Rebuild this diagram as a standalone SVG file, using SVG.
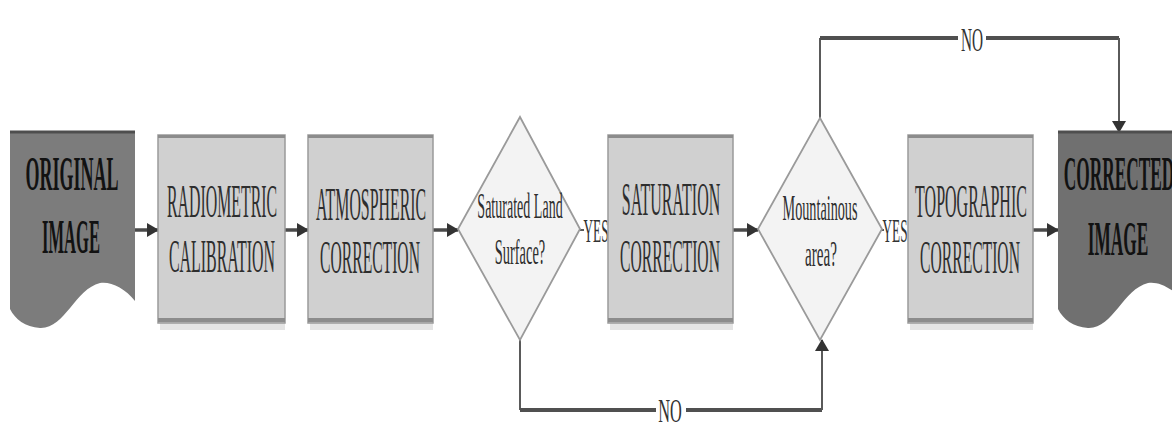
<svg xmlns="http://www.w3.org/2000/svg" width="1172" height="435" viewBox="0 0 1172 435">
  <defs>
    <style>
      .box { fill: #d0d0d0; stroke: #9a9a9a; stroke-width: 1.5; }
      .band { fill: #8c8c8c; }
      .shadow { fill: #e4e4e4; }
      .doc { fill: #7c7c7c; }
      .docTop { stroke: #4e4e4e; stroke-width: 3; }
      .dia { fill: #f3f3f3; stroke: #9a9a9a; stroke-width: 1.8; }
      .t { font-family: "Liberation Serif", "Times New Roman", serif; fill: #2e2e2e; text-anchor: middle; }
      .big { font-size: 46px; }
      .dark { fill: #121212; font-size: 48px; font-weight: bold; }
      .small { font-size: 36px; }
      .lbl { font-family: "Liberation Serif", "Times New Roman", serif; fill: #333; font-size: 34px; text-anchor: middle; }
      .wire { fill: none; stroke: #4a4a4a; stroke-width: 3.5; }
      .thin { fill: none; stroke: #5a5a5a; stroke-width: 2; }
      .loop { fill: none; stroke: #505050; stroke-width: 4; }
    </style>
    <marker id="arrow" viewBox="0 0 12 14" refX="11" refY="7" markerWidth="12" markerHeight="14" markerUnits="userSpaceOnUse" orient="auto">
      <path d="M0,0 L12,7 L0,14 Z" fill="#333"/>
    </marker>
    <path id="docShape" d="M0,0 H125 V170 C115,157 100,150 90,152 C65,158 55,198 30,197 C15,196 5,188 0,178 Z"/>
  </defs>

  <!-- connectors -->
  <g id="connectors">
    <line class="wire" x1="135" y1="230" x2="158" y2="230" marker-end="url(#arrow)"/>
    <line class="wire" x1="285" y1="230" x2="308" y2="230" marker-end="url(#arrow)"/>
    <line class="wire" x1="433" y1="230" x2="458" y2="230" marker-end="url(#arrow)"/>
    <line class="wire" x1="733" y1="230" x2="758" y2="230" marker-end="url(#arrow)"/>
    <line class="wire" x1="1033" y1="230" x2="1058" y2="230" marker-end="url(#arrow)"/>
    <!-- YES links -->
    <line class="thin" x1="580" y1="230" x2="584" y2="230"/>
    <line class="thin" x1="882" y1="230" x2="884" y2="230"/>
    <!-- NO: Saturated Land Surface -> Mountainous area -->
    <polyline class="thin" points="520,340 520,410"/>
    <line class="loop" x1="520" y1="410" x2="822" y2="410"/>
    <polyline class="thin" points="822,410 822,340" marker-end="url(#arrow)"/>
    <!-- NO: Mountainous area -> Corrected image -->
    <polyline class="thin" points="820,118 820,38"/>
    <line class="loop" x1="820" y1="38" x2="1119" y2="38"/>
    <polyline class="thin" points="1119,38 1119,132" marker-end="url(#arrow)"/>
    <!-- branch labels -->
    <rect x="958" y="26" width="28" height="26" fill="#ffffff"/>
    <text class="lbl" transform="translate(972,51) scale(0.45,1)">NO</text>
    <rect x="656" y="398" width="30" height="26" fill="#ffffff"/>
    <text class="lbl" transform="translate(670,422) scale(0.48,1)">NO</text>
    <text class="lbl" transform="translate(596,242) scale(0.39,1)">YES</text>
    <text class="lbl" transform="translate(895,242) scale(0.39,1)">YES</text>
  </g>

  <g id="original-image">
    <use href="#docShape" class="doc" transform="translate(10,131)"/>
    <line class="docTop" x1="10" y1="132" x2="135" y2="132"/>
    <text class="t dark" transform="translate(72,190) scale(0.375,1)">ORIGINAL</text>
    <text class="t dark" transform="translate(71,253) scale(0.345,1)">IMAGE</text>
  </g>

  <g id="radiometric-calibration">
    <rect class="shadow" x="160" y="323" width="125" height="7"/>
    <rect class="box" x="158" y="135" width="127" height="188"/>
    <rect class="band" x="158" y="135" width="127" height="3"/>
    <rect class="band" x="158" y="318" width="127" height="4"/>
    <text class="t big" transform="translate(222,217) scale(0.345,1)">RADIOMETRIC</text>
    <text class="t big" transform="translate(222,272) scale(0.346,1)">CALIBRATION</text>
  </g>

  <g id="atmospheric-correction">
    <rect class="shadow" x="310" y="323" width="123" height="7"/>
    <rect class="box" x="308" y="135" width="125" height="188"/>
    <rect class="band" x="308" y="135" width="125" height="3"/>
    <rect class="band" x="308" y="318" width="125" height="4"/>
    <text class="t big" transform="translate(371,220) scale(0.345,1)">ATMOSPHERIC</text>
    <text class="t big" transform="translate(370,273) scale(0.34,1)">CORRECTION</text>
  </g>

  <g id="saturated-land-surface">
    <polygon class="dia" points="520,117 580,229 520,340 458,229"/>
    <text class="t small" transform="translate(520,218) scale(0.39,1)">Saturated Land</text>
    <text class="t small" transform="translate(520,264) scale(0.40,1)">Surface?</text>
  </g>

  <g id="saturation-correction">
    <rect class="shadow" x="610" y="323" width="123" height="7"/>
    <rect class="box" x="608" y="135" width="125" height="188"/>
    <rect class="band" x="608" y="135" width="125" height="3"/>
    <rect class="band" x="608" y="318" width="125" height="4"/>
    <text class="t big" transform="translate(671,215) scale(0.347,1)">SATURATION</text>
    <text class="t big" transform="translate(670,272) scale(0.34,1)">CORRECTION</text>
  </g>

  <g id="mountainous-area">
    <polygon class="dia" points="820,118 882,229 820,340 758,229"/>
    <text class="t small" transform="translate(820,220) scale(0.395,1)">Mountainous</text>
    <text class="t small" transform="translate(821,266) scale(0.42,1)">area?</text>
  </g>

  <g id="topographic-correction">
    <rect class="shadow" x="910" y="323" width="123" height="7"/>
    <rect class="box" x="908" y="135" width="125" height="188"/>
    <rect class="band" x="908" y="135" width="125" height="3"/>
    <rect class="band" x="908" y="318" width="125" height="4"/>
    <text class="t big" transform="translate(971,217) scale(0.348,1)">TOPOGRAPHIC</text>
    <text class="t big" transform="translate(970,273) scale(0.34,1)">CORRECTION</text>
  </g>

  <g id="corrected-image">
    <use href="#docShape" class="doc" transform="translate(1058,131)" style="fill:#707070"/>
    <line class="docTop" x1="1058" y1="132" x2="1183" y2="132"/>
    <text class="t dark" transform="translate(1119,190) scale(0.36,1)">CORRECTED</text>
    <text class="t dark" transform="translate(1118,255) scale(0.36,1)">IMAGE</text>
  </g>
</svg>
